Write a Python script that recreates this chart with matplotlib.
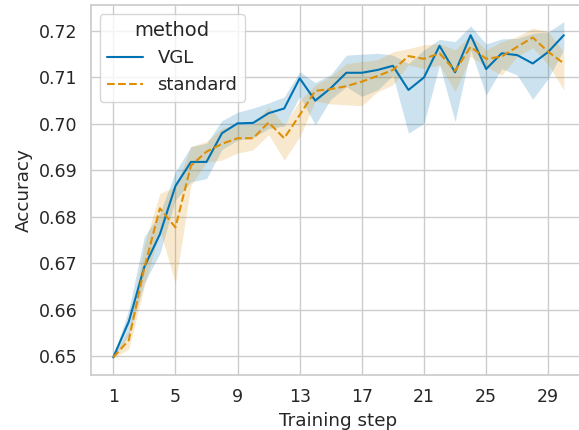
import matplotlib
matplotlib.use("Agg")
import matplotlib.pyplot as plt
import seaborn as sns
import numpy as np

steps = list(range(1, 31))

vgl_mean = [0.6497, 0.6574, 0.6692, 0.6762, 0.6866, 0.6918, 0.6918, 0.6980, 0.7001, 0.7002,
            0.7023, 0.7033, 0.7098, 0.7050, 0.7077, 0.7110, 0.7110, 0.7116, 0.7125, 0.7073,
            0.7100, 0.7168, 0.7111, 0.7191, 0.7118, 0.7152, 0.7148, 0.7130, 0.7155, 0.7191]
vgl_low = [0.6495, 0.6545, 0.6657, 0.6721, 0.6836, 0.6875, 0.6882, 0.6945, 0.6965, 0.6970,
           0.6990, 0.6995, 0.7059, 0.6998, 0.7053, 0.7080, 0.7059, 0.7073, 0.7104, 0.6980,
           0.7001, 0.7127, 0.7005, 0.7159, 0.7062, 0.7119, 0.7105, 0.7053, 0.7098, 0.7160]
vgl_high = [0.6499, 0.6600, 0.6757, 0.6807, 0.6897, 0.6951, 0.6958, 0.7007, 0.7025, 0.7034,
            0.7045, 0.7058, 0.7112, 0.7089, 0.7106, 0.7148, 0.7150, 0.7152, 0.7148, 0.7130,
            0.7159, 0.7182, 0.7177, 0.7211, 0.7172, 0.7183, 0.7184, 0.7195, 0.7198, 0.7220]

std_mean = [0.6497, 0.6534, 0.6690, 0.6818, 0.6777, 0.6910, 0.6940, 0.6957, 0.6969, 0.6969,
            0.7003, 0.6969, 0.7019, 0.7071, 0.7075, 0.7081, 0.7091, 0.7103, 0.7116, 0.7146,
            0.7140, 0.7152, 0.7114, 0.7166, 0.7140, 0.7145, 0.7166, 0.7186, 0.7155, 0.7130]
std_low = [0.6495, 0.6515, 0.6650, 0.6771, 0.6657, 0.6868, 0.6917, 0.6922, 0.6937, 0.6944,
           0.6977, 0.6922, 0.6972, 0.7049, 0.7043, 0.7041, 0.7039, 0.7069, 0.7084, 0.7127,
           0.7119, 0.7127, 0.7069, 0.7145, 0.7123, 0.7105, 0.7145, 0.7164, 0.7127, 0.7073]
std_high = [0.6499, 0.6555, 0.6740, 0.6850, 0.6865, 0.6951, 0.6962, 0.6991, 0.6998, 0.6998,
            0.7037, 0.6998, 0.7050, 0.7084, 0.7102, 0.7130, 0.7134, 0.7138, 0.7155, 0.7162,
            0.7170, 0.7173, 0.7159, 0.7191, 0.7159, 0.7177, 0.7188, 0.7206, 0.7198, 0.7155]

xticks = [1, 5, 9, 13, 17, 21, 25, 29]
yticks = [0.65, 0.66, 0.67, 0.68, 0.69, 0.70, 0.71, 0.72]

sns.set_theme(style="whitegrid")
plt.rcParams['font.family'] = ['DejaVu Sans']

blue = '#0173b2'
orange = '#de8f05'

fig = plt.figure(figsize=(5.79, 4.30), dpi=100)
ax = fig.add_axes([0.1567, 0.1279, 0.856, 0.8605])

ax.fill_between(steps, vgl_low, vgl_high, color=blue, alpha=0.2, linewidth=0)
ax.fill_between(steps, std_low, std_high, color=orange, alpha=0.2, linewidth=0)
ax.plot(steps, vgl_mean, color=blue, linewidth=1.5, label='VGL')
ax.plot(steps, std_mean, color=orange, linewidth=1.5, linestyle='--', label='standard')

ax.set_xlim(-0.45, 31.45)
ax.set_ylim(0.6459, 0.7256)
ax.set_xticks(xticks)
ax.set_xticklabels([str(t) for t in xticks])
ax.set_yticks(yticks)
ax.set_yticklabels([f"{t:.2f}" for t in yticks])
ax.tick_params(labelsize=12.5, colors='#262626')
ax.set_xlabel('Training step', fontsize=13.2, color='#262626')
ax.set_ylabel('Accuracy', fontsize=13.2, color='#262626')

leg = ax.legend(title='method', loc='upper left', fontsize=13, title_fontsize=14,
                frameon=True)

fig.savefig('out.png', dpi=100)
